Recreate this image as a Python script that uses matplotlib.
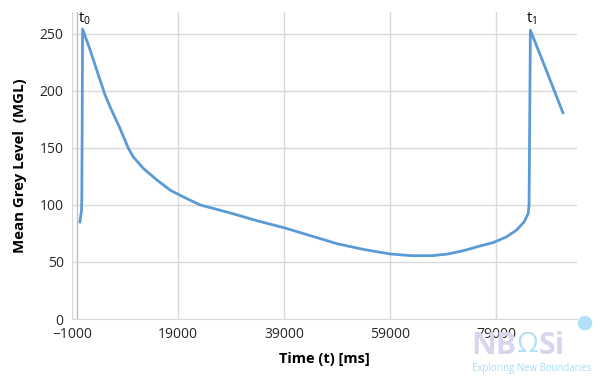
import matplotlib.pyplot as plt
from matplotlib.patches import Ellipse

# data (time in ms, mean grey level)
time_ms = [500, 700, 800, 850, 900, 1000, 2400, 3960, 5230, 6170, 8060, 9620,
           10570, 12450, 14980, 17490, 20000, 23150, 28800, 34000, 39000, 44000,
           49000, 54000, 59000, 63000, 67000, 70000, 73000, 76000, 78500, 81000,
           82900, 84300, 85100, 85250, 85350, 85500, 88500, 91640]
mgl = [85, 92, 95, 105, 150, 254, 236, 214, 196.5, 186, 167, 149.7,
       142, 132, 122, 113, 107, 100, 93, 86, 80, 73,
       66, 61, 57, 55.5, 55.5, 57, 60, 64, 67, 72,
       78, 85, 92.5, 100, 160, 253, 218, 180.7]

xticks = [-1000, 19000, 39000, 59000, 79000]
yticks = [0, 50, 100, 150, 200, 250]

plt.rcParams['font.family'] = ['Open Sans', 'DejaVu Sans']

fig = plt.figure(figsize=(6, 3.81), dpi=100)
ax = fig.add_axes([0.12, 0.1627, 0.8417, 0.8058])

# logo (behind everything)
fig.text(0.785, 0.072, 'NB', fontsize=22, fontweight='bold', color='#D8D6EC', zorder=0)
fig.text(0.898, 0.072, 'Si', fontsize=22, fontweight='bold', color='#D8D6EC', zorder=0)
fig.text(0.862, 0.075, 'Ω', fontsize=20, color='#B3E0F7', zorder=0)
fig.patches.append(Ellipse((0.975, 0.152), 0.022, 0.022 * 600 / 381,
                           transform=fig.transFigure, color='#B3E0F7', zorder=0))
fig.text(0.786, 0.025, 'Exploring New Boundaries', fontsize=6.9, color='#A9DCF5', zorder=0)

ax.plot(time_ms, mgl, color='#5B9BD5', lw=2, zorder=3)
ax.axvline(0, color='#BFBFBF', lw=1, zorder=2)

ax.set_xlim(-1000, 94300)
ax.set_ylim(0, 269)
ax.set_xticks(xticks)
ax.set_yticks(yticks)
ax.grid(True, color='#D9D9D9', lw=1)
ax.set_axisbelow(True)
ax.patch.set_alpha(0)
for s in ['top', 'right', 'left']:
    ax.spines[s].set_visible(False)
ax.spines['bottom'].set_color('#D9D9D9')
ax.tick_params(length=0, labelsize=10, colors='#262626', pad=6)

ax.set_xlabel('Time (t) [ms]', fontsize=10.5, fontweight='bold', labelpad=7)
ax.set_ylabel('Mean Grey Level  (MGL)', fontsize=10.8, fontweight='bold', labelpad=9)

ax.text(1400, 256, r'$\mathregular{t_0}$', fontsize=10.5, ha='center', va='bottom')
ax.text(85700, 256, r'$\mathregular{t_1}$', fontsize=10.5, ha='center', va='bottom')

fig.savefig('out.png', dpi=100)
